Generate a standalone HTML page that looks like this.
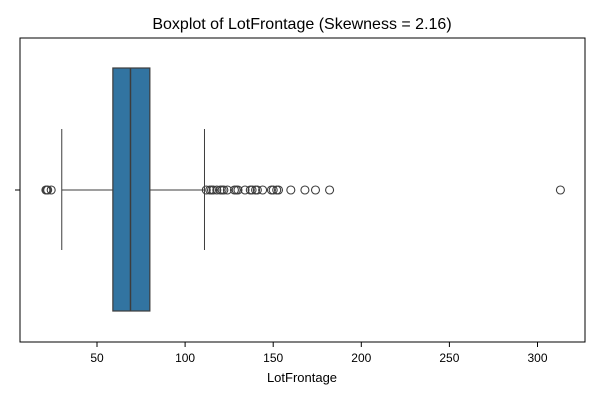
<!DOCTYPE html>
<html><head><meta charset="utf-8"><style>
body{margin:0;background:#fff;font-family:"Liberation Sans",sans-serif;}
</style></head><body>
<svg width="600" height="400" xmlns="http://www.w3.org/2000/svg">
<text x="302" y="29" text-anchor="middle" font-size="16">Boxplot of LotFrontage (Skewness = 2.16)</text>
<g id="plot"></g>
<rect x="20" y="38" width="565" height="304" fill="none" stroke="#000" stroke-width="1"/>
<text x="302" y="382" text-anchor="middle" font-size="13">LotFrontage</text>
</svg>
<script>
const xTicks=[50,100,150,200,250,300];
const q1=59, median=69, q3=80, whiskerLow=30, whiskerHigh=111;
const outliers=[21,21.5,22,24,112,114,115,116,118,120,121,122,124,128,129,130,134,137,138,140,141,144,149,150,152,153,160,168,174,182,313];
const NS="http://www.w3.org/2000/svg";
const g=document.getElementById('plot');
const x=v=>97+(v-50)*1.762;
const cy=190, bt=68, bb=311, ct=129, cb=250;
function mk(t,a){const e=document.createElementNS(NS,t);for(const k in a)e.setAttribute(k,a[k]);g.appendChild(e);return e;}
xTicks.forEach(v=>{
 const l=mk('line',{x1:x(v),x2:x(v),y1:342,y2:347,stroke:'#000'});
 
 
 const t=mk('text',{x:x(v),y:362,'text-anchor':'middle','font-size':'12'});
 t.textContent=v;
 
 
});
const yt=mk('line',{x1:15,x2:20,y1:cy,y2:cy,stroke:'#000'});


const c='#3d3d3d';
const w1=mk('line',{x1:x(whiskerLow),x2:x(q1),y1:cy,y2:cy,stroke:c});


const w2=mk('line',{x1:x(q3),x2:x(whiskerHigh),y1:cy,y2:cy,stroke:c});


[whiskerLow,whiskerHigh].forEach(v=>{
 const e=mk('line',{x1:x(v),x2:x(v),y1:ct,y2:cb,stroke:c});
 
 
});
const b=mk('rect',{x:x(q1),y:bt,width:x(q3)-x(q1),height:bb-bt,fill:'#3274a1',stroke:c,'stroke-width':1.2});


const m=mk('line',{x1:x(median),x2:x(median),y1:bt,y2:bb,stroke:c,'stroke-width':1.5});


outliers.forEach(v=>{
 const o=mk('circle',{cx:x(v),cy:cy,r:4,fill:'none',stroke:c,'stroke-width':1.1});
 
 
});
</script>
</body></html>
